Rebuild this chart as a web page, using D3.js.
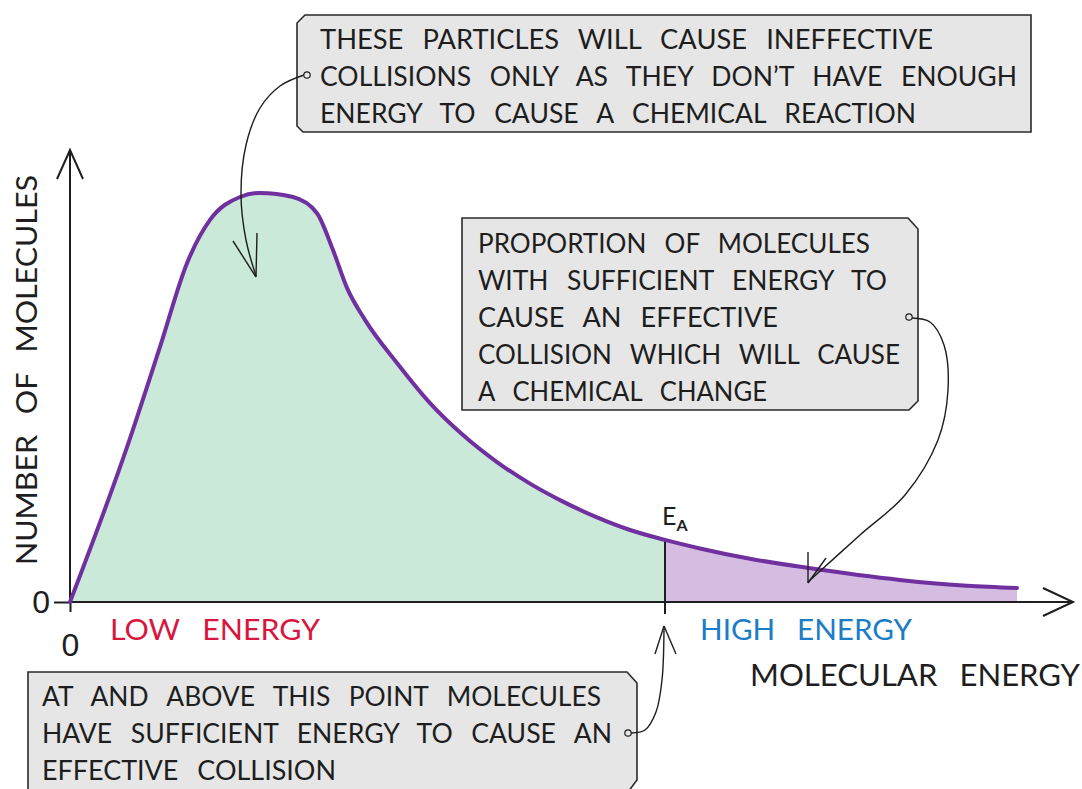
<!DOCTYPE html>
<html>
<head>
<meta charset="utf-8">
<script src="https://cdn.jsdelivr.net/npm/d3@7"></script>
<style>
  body { margin: 0; background: #fff; }
  svg { display: block; font-family: Lato, "Open Sans", sans-serif; }
</style>
</head>
<body>
<svg id="chart" width="1082" height="789"></svg>
<script>
// molecular energy (arbitrary units) and number of molecules
const energy = [0, 5.7, 9, 11.7, 14, 17, 19, 22.3, 24.7, 26.3, 27.7, 29.5, 32.7, 36, 39.3, 42.7, 46, 49.3, 52.7, 56, 59.5, 63, 68, 73.7, 83, 89.7, 94.7]
const molecules = [0, 34.4, 56.7, 75.3, 84.9, 90, 90.9, 90, 86.4, 78.2, 69.8, 62.7, 53.1, 44.2, 37.1, 31.1, 26.3, 22.3, 18.8, 16, 13.8, 11.9, 9.6, 7.6, 4.9, 3.6, 3.1]
const activationEnergy = 59.5
const xTicks = [0]
const yTicks = [0]

const topNote = ['THESE PARTICLES WILL CAUSE INEFFECTIVE', 'COLLISIONS ONLY AS THEY DON\u2019T HAVE ENOUGH', 'ENERGY TO CAUSE A CHEMICAL REACTION']
const rightNote = ['PROPORTION OF MOLECULES', 'WITH SUFFICIENT ENERGY TO', 'CAUSE AN EFFECTIVE', 'COLLISION WHICH WILL CAUSE', 'A CHEMICAL CHANGE']
const bottomNote = ['AT AND ABOVE THIS POINT MOLECULES', 'HAVE SUFFICIENT ENERGY TO CAUSE AN', 'EFFECTIVE COLLISION']

const data = energy.map((e, i) => ({ e: e, n: molecules[i] }))

const svg = d3.select('#chart')
const ink = '#1e1e1e'

//scales
const x = d3.scaleLinear().domain([0, 100]).range([70, 1070])
const y = d3.scaleLinear().domain([0, 100]).range([602, 152])

//clip areas either side of Ea
const defs = svg.append('defs')
defs.append('clipPath').attr('id', 'low')
    .append('rect').attr('x', 0).attr('y', 0).attr('width', x(activationEnergy)).attr('height', 789)
defs.append('clipPath').attr('id', 'high')
    .append('rect').attr('x', x(activationEnergy)).attr('y', 0).attr('width', 1082).attr('height', 789)

const area = d3.area()
    .x(d => x(d.e))
    .y0(y(0))
    .y1(d => y(d.n))
    .curve(d3.curveMonotoneX)

const line = d3.line()
    .x(d => x(d.e))
    .y(d => y(d.n))
    .curve(d3.curveMonotoneX)

svg.append('path').datum(data)
    .attr('d', area)
    .attr('fill', '#cbe9d8')
    .attr('clip-path', 'url(#low)')

svg.append('path').datum(data)
    .attr('d', area)
    .attr('fill', '#d4bde0')
    .attr('clip-path', 'url(#high)')

//Ea marker
const eaIdx = energy.indexOf(activationEnergy)
svg.append('line')
    .attr('x1', x(activationEnergy)).attr('x2', x(activationEnergy))
    .attr('y1', y(molecules[eaIdx])).attr('y2', y(0) + 12)
    .attr('stroke', ink).attr('stroke-width', 2)

//axes
const yAxis = svg.append('g')
    .attr('transform', `translate(${x(0)},0)`)
    .call(d3.axisLeft(y).tickValues(yTicks).tickSize(16).tickPadding(4).tickFormat(d3.format('d')))
yAxis.select('.domain').remove()
yAxis.selectAll('line').attr('stroke', ink).attr('stroke-width', 2)
yAxis.selectAll('text').attr('font-size', 32).attr('fill', ink).attr('dy', '0.34em')

const xAxis = svg.append('g')
    .attr('transform', `translate(0,${y(0)})`)
    .call(d3.axisBottom(x).tickValues(xTicks).tickSize(10).tickPadding(21).tickFormat(d3.format('d')))
xAxis.select('.domain').remove()
xAxis.selectAll('line').attr('stroke', ink).attr('stroke-width', 2)
xAxis.selectAll('text').attr('font-size', 32).attr('fill', ink)

svg.append('line')
    .attr('x1', x(0)).attr('x2', x(100) + 3)
    .attr('y1', y(0)).attr('y2', y(0))
    .attr('stroke', ink).attr('stroke-width', 2)
svg.append('line')
    .attr('x1', x(0)).attr('x2', x(0))
    .attr('y1', y(0)).attr('y2', y(100))
    .attr('stroke', ink).attr('stroke-width', 2)

//arrow heads
svg.append('path')
    .attr('d', `M${x(100) - 27},${y(0) - 14}L${x(100) + 3},${y(0)}L${x(100) - 27},${y(0) + 14}`)
    .attr('fill', 'none').attr('stroke', ink).attr('stroke-width', 2)
svg.append('path')
    .attr('d', `M${x(0) - 13},${y(100) + 27}L${x(0)},${y(100) - 2}L${x(0) + 13},${y(100) + 27}`)
    .attr('fill', 'none').attr('stroke', ink).attr('stroke-width', 2)

//distribution curve
svg.append('path').datum(data)
    .attr('d', line)
    .attr('fill', 'none')
    .attr('stroke', '#7030a0')
    .attr('stroke-width', 4)
    .attr('stroke-linecap', 'round')

//axis labels
svg.append('text')
    .attr('transform', 'translate(37,370) rotate(-90)')
    .attr('text-anchor', 'middle')
    .attr('font-size', 28)
    .attr('word-spacing', 12)
    .attr('fill', ink)
    .attr('textLength', 390).attr('lengthAdjust', 'spacingAndGlyphs')
    .text('NUMBER OF MOLECULES')

const label = (txt, x0, yb, w, size, color) => svg.append('text')
    .attr('x', x0).attr('y', yb)
    .attr('font-size', size).attr('fill', color)
    .attr('word-spacing', 14)
    .attr('textLength', w).attr('lengthAdjust', 'spacingAndGlyphs')
    .text(txt)

label('LOW ENERGY', 110, 640, 210, 29, '#d8173f')
label('HIGH ENERGY', 700, 640, 212, 29, '#1b7dc6')
label('MOLECULAR ENERGY', 750, 686, 330, 31, ink)

//Ea label
const ea = svg.append('text')
    .attr('x', x(activationEnergy) - 3).attr('y', 525)
    .attr('fill', ink)
ea.append('tspan').attr('font-size', 25).text('E')
ea.append('tspan').attr('font-size', 16).attr('dy', 6).attr('font-weight', 700).text('A')

//annotation boxes
const box = (pts, lines, tx, ty0, lh, widths) => {
    svg.append('path')
        .attr('d', 'M' + pts.map(p => p.join(',')).join('L') + 'Z')
        .attr('fill', '#e6e6e6')
        .attr('stroke', '#2a2a2a')
        .attr('stroke-width', 1.6)
    lines.forEach((t, i) => {
        svg.append('text')
            .attr('x', tx).attr('y', ty0 + i * lh)
            .attr('font-size', 27).attr('fill', ink)
            .attr('word-spacing', 12)
            .attr('textLength', widths[i]).attr('lengthAdjust', 'spacingAndGlyphs')
            .text(t)
    })
}

box([[305, 15], [1031, 15], [1031, 132], [303, 132], [297, 126], [297, 23]],
    topNote, 320, 49, 37, [613, 697, 596])
box([[462, 218], [908, 218], [918, 229], [918, 401], [909, 410], [462, 410]],
    rightNote, 478, 253, 37, [392, 409, 300, 422, 289])
box([[28, 672], [627, 672], [637, 683], [637, 780], [628, 792], [28, 792]],
    bottomNote, 42, 706, 37, [559, 570, 294])

//connectors
const curve = d3.line().curve(d3.curveCatmullRom)
const connector = (pts, tip, barbs, dot) => {
    svg.append('path').attr('d', curve(pts))
        .attr('fill', 'none').attr('stroke', ink).attr('stroke-width', 1.4)
    barbs.forEach(b => {
        svg.append('line')
            .attr('x1', b[0]).attr('y1', b[1]).attr('x2', tip[0]).attr('y2', tip[1])
            .attr('stroke', ink).attr('stroke-width', 1.4)
    })
    svg.append('circle').attr('cx', dot[0]).attr('cy', dot[1]).attr('r', 3.2)
        .attr('fill', '#e6e6e6').attr('stroke', ink).attr('stroke-width', 1.2)
}

connector([[304, 75], [280, 86], [260, 108], [246, 145], [241, 195], [246, 240], [256, 276]],
    [256, 277], [[233, 241], [257, 233]], [307, 75])
connector([[912, 318], [930, 322], [944, 345], [948, 390], [938, 440], [905, 495], [860, 535], [808, 582]],
    [808, 583], [[808, 552], [826, 558]], [909, 317])
connector([[631, 733], [645, 730], [656, 712], [662, 680], [664, 628]],
    [664, 626], [[655, 654], [676, 654]], [628, 733])
</script>
</body>
</html>
